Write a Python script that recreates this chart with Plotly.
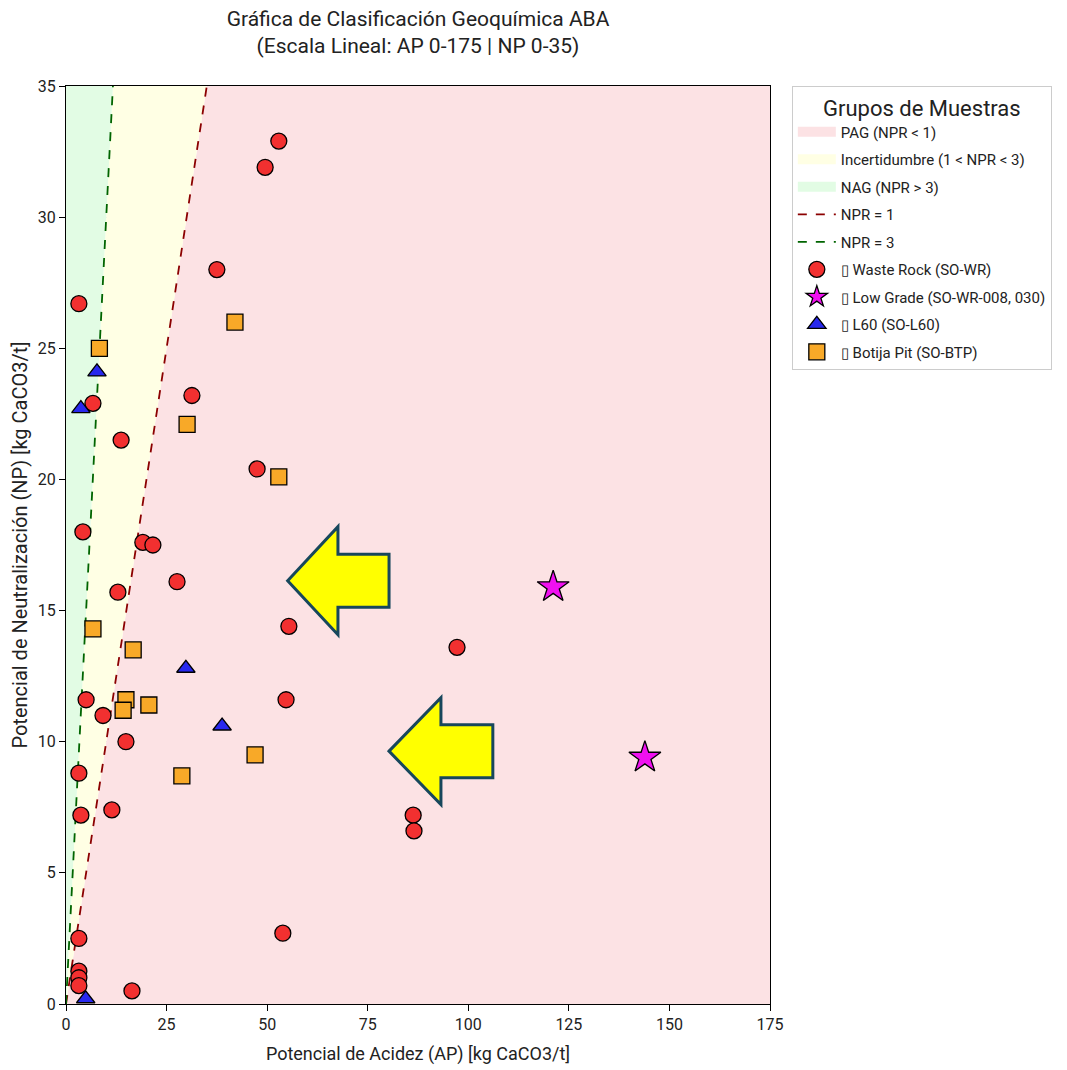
import plotly.graph_objects as go

# ---- Data ----
wr_ap = [52.9, 49.5, 37.5, 3.2, 6.7, 31.3, 13.7, 47.5, 4.2, 19.1, 21.6, 27.6, 12.9, 55.4, 97.2,
         5.0, 54.7, 9.2, 14.9, 3.2, 3.7, 11.4, 86.3, 86.5, 3.2, 53.9, 3.2, 3.2, 3.2, 16.4]
wr_np = [32.9, 31.9, 28.0, 26.7, 22.9, 23.2, 21.5, 20.4, 18.0, 17.6, 17.5, 16.1, 15.7, 14.4, 13.6,
         11.6, 11.6, 11.0, 10.0, 8.8, 7.2, 7.4, 7.2, 6.6, 2.5, 2.7, 1.25, 1.0, 0.7, 0.5]

lg_ap = [121.1, 143.9]
lg_np = [15.9, 9.4]

l60_ap = [7.7, 3.7, 29.8, 38.8, 4.9]
l60_np = [24.1, 22.7, 12.8, 10.6, 0.2]

bp_ap = [8.3, 42.0, 30.1, 52.9, 6.7, 16.7, 14.9, 14.2, 20.6, 47.0, 28.8]
bp_np = [25.0, 26.0, 22.1, 20.1, 14.3, 13.5, 11.6, 11.2, 11.4, 9.5, 8.7]

AP_MAX = 175
NP_MAX = 35
NPR_LOW = 1
NPR_HIGH = 3

x_ticks = [0, 25, 50, 75, 100, 125, 150, 175]
y_ticks = [0, 5, 10, 15, 20, 25, 30, 35]

# Arrow annotations (data coords): tip, head x, head half-height, body half-height, tail x
arrows = [
    dict(tip=(55.1, 16.14), head_x=67.6, head_half=2.06, body_half=1.01, tail_x=80.3),
    dict(tip=(80.3, 9.64), head_x=93.2, head_half=2.04, body_half=1.01, tail_x=106.1),
]

FONT = "Roboto"
PINK = "rgb(252,226,228)"
YELLOW = "rgb(255,255,228)"
GREEN = "rgb(226,252,228)"

W, H = 1059, 1062

fig = go.Figure()

# Regions
x3 = NP_MAX / NPR_HIGH
x1 = NP_MAX / NPR_LOW
fig.add_trace(go.Scatter(x=[0, AP_MAX, AP_MAX, x1, 0], y=[0, 0, NP_MAX, NP_MAX, 0],
                         fill="toself", fillcolor=PINK, line=dict(width=0),
                         mode="lines", showlegend=False, hoverinfo="skip"))
fig.add_trace(go.Scatter(x=[0, x1, x3, 0], y=[0, NP_MAX, NP_MAX, 0],
                         fill="toself", fillcolor=YELLOW, line=dict(width=0),
                         mode="lines", showlegend=False, hoverinfo="skip"))
fig.add_trace(go.Scatter(x=[0, x3, 0, 0], y=[0, NP_MAX, NP_MAX, 0],
                         fill="toself", fillcolor=GREEN, line=dict(width=0),
                         mode="lines", showlegend=False, hoverinfo="skip"))
# legend patches for regions
for i, (nm, col) in enumerate([("PAG (NPR < 1)", PINK), ("Incertidumbre (1 < NPR < 3)", YELLOW),
                               ("NAG (NPR > 3)", GREEN)]):
    fig.add_trace(go.Scatter(x=[None], y=[None], mode="lines", name=nm, legendgroup=f"r{i}",
                             line=dict(color=col, width=16)))

# NPR lines
fig.add_trace(go.Scatter(x=[0, NP_MAX / NPR_LOW], y=[0, NP_MAX], mode="lines", legendgroup="l1",
                         line=dict(color="#8b0000", dash="dash", width=1.8), name="NPR = 1"))
fig.add_trace(go.Scatter(x=[0, NP_MAX / NPR_HIGH], y=[0, NP_MAX], mode="lines", legendgroup="l3",
                         line=dict(color="#006400", dash="dash", width=1.8), name="NPR = 3"))

# Samples
mline = dict(color="black", width=1.3)
fig.add_trace(go.Scatter(x=wr_ap, y=wr_np, mode="markers", name="\u25af Waste Rock (SO-WR)",
                         legendgroup="wr",
                         marker=dict(symbol="circle", size=16, color="#f23030", line=mline)))
fig.add_trace(go.Scatter(x=lg_ap, y=lg_np, mode="markers", name="\u25af Low Grade (SO-WR-008, 030)",
                         legendgroup="lg",
                         marker=dict(symbol="star", size=24, color="#f010f0", line=mline)))
fig.add_trace(go.Scatter(x=l60_ap, y=l60_np, mode="markers", name="\u25af L60 (SO-L60)",
                         legendgroup="l60",
                         marker=dict(symbol="triangle-up", size=16, color="#2828ee", line=mline)))
fig.add_trace(go.Scatter(x=bp_ap, y=bp_np, mode="markers", name="\u25af Botija Pit (SO-BTP)",
                         legendgroup="bp",
                         marker=dict(symbol="square", size=16, color="#f8a928", line=mline)))

# Arrows
for a in arrows:
    tx, ty = a["tip"]
    pts = [(tx, ty), (a["head_x"], ty + a["head_half"]), (a["head_x"], ty + a["body_half"]),
           (a["tail_x"], ty + a["body_half"]), (a["tail_x"], ty - a["body_half"]),
           (a["head_x"], ty - a["body_half"]), (a["head_x"], ty - a["head_half"])]
    path = "M " + " L ".join(f"{x},{y}" for x, y in pts) + " Z"
    fig.add_shape(type="path", path=path, xref="x", yref="y", fillcolor="#ffff00",
                  line=dict(color="#17475c", width=3), layer="above")

fig.update_layout(
    width=W, height=H,
    margin=dict(l=58, r=W - 762, t=78, b=H - 996, autoexpand=False),
    paper_bgcolor="white", plot_bgcolor="white",
    font=dict(family=FONT, size=15, color="#222"),
    title=dict(text="Gráfica de Clasificación Geoquímica ABA<br>(Escala Lineal: AP 0-175 | NP 0-35)",
               x=0.5, xref="paper", xanchor="center", y=1 - 17.5 / H, yref="container",
               yanchor="middle", automargin=False,
               font=dict(family=FONT, size=21, color="#222")),
    legend=dict(x=1.031, y=1.0, xanchor="left", yanchor="top", bgcolor="white",
                bordercolor="#cccccc", borderwidth=1, traceorder="grouped", tracegroupgap=5,
                itemwidth=38,
                font=dict(family=FONT, size=15, color="#222"),
                title=dict(text="Grupos de Muestras", side="top center",
                           font=dict(family=FONT, size=22, color="#222"))),
    showlegend=True,
)
fig.update_xaxes(range=[0, AP_MAX], tickvals=x_ticks, ticks="outside", ticklen=6, tickcolor="black",
                 showline=True, linecolor="black", linewidth=1.2, mirror=True, automargin=False,
                 showgrid=True, gridcolor="rgba(160,160,160,0.5)", griddash="dash", zeroline=False,
                 tickfont=dict(size=16),
                 title=dict(text="Potencial de Acidez (AP) [kg CaCO3/t]", font=dict(size=18), standoff=14))
fig.update_yaxes(range=[0, NP_MAX], tickvals=y_ticks, ticks="outside", ticklen=6, tickcolor="black",
                 showline=True, linecolor="black", linewidth=1.2, mirror=True, automargin=False,
                 showgrid=True, gridcolor="rgba(160,160,160,0.5)", griddash="dash", zeroline=False,
                 tickfont=dict(size=16),
                 title=dict(text="Potencial de Neutralización (NP) [kg CaCO3/t]", font=dict(size=20), standoff=5))

fig.write_html("out.html")
